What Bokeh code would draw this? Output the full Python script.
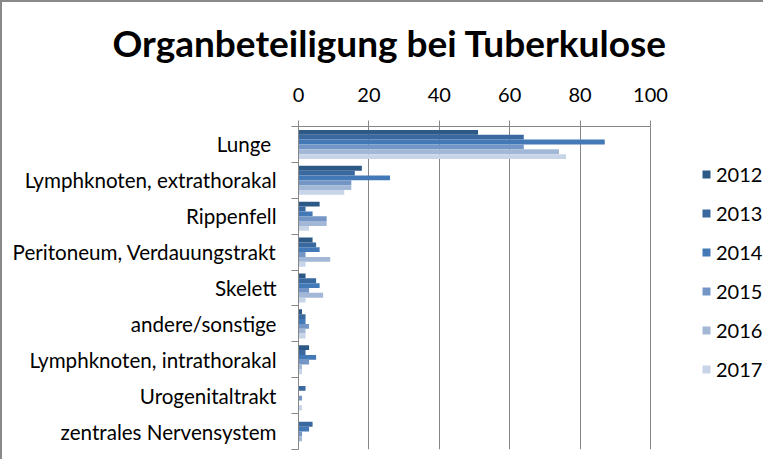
from bokeh.plotting import figure
from bokeh.models import Range1d, FixedTicker, Legend, LegendItem, ColumnDataSource
from bokeh.embed import file_html
from bokeh.resources import INLINE

categories = ["Lunge ", "Lymphknoten, extrathorakal", "Rippenfell",
              "Peritoneum, Verdauungstrakt", "Skelett", "andere/sonstige",
              "Lymphknoten, intrathorakal", "Urogenitaltrakt", "zentrales Nervensystem"]
years = ["2012", "2013", "2014", "2015", "2016", "2017"]
v2012 = [51, 18, 6, 4, 2, 1, 3, 0, 0]
v2013 = [64, 16, 2, 5, 5, 2, 2, 2, 4]
v2014 = [87, 26, 4, 6, 6, 2, 5, 0, 3]
v2015 = [64, 15, 8, 2, 3, 3, 3, 1, 1]
v2016 = [74, 15, 8, 9, 7, 2, 1, 0, 1]
v2017 = [76, 13, 3, 2, 2, 2, 1, 1, 0]
series = [v2012, v2013, v2014, v2015, v2016, v2017]
colors = ["#2D5986", "#3A69A0", "#4379B7", "#7496C7", "#A3B8D7", "#C8D4E7"]
x_ticks = [0, 20, 40, 60, 80, 100]

FONT = "Lato"
FS = "20px"
n = len(categories)
centers = [n - 1 - i + 0.5 for i in range(n)]
bar_h = 0.135

W, H = 763, 459
LEFT = 296          # frame left inside figure
X100 = 648          # pixel of value 100 inside figure
x_end = 100 * (W - LEFT) / (X100 - LEFT)

p = figure(width=W, height=H, x_range=Range1d(0, x_end), y_range=Range1d(0, n),
           x_axis_location="above", output_backend="svg", toolbar_location=None,
           min_border_left=LEFT, min_border_right=0, min_border_bottom=12,
           min_border_top=122)
p.styles = {"border-top": "2px solid #898989", "border-left": "2px solid #898989"}
p.outline_line_color = None
p.background_fill_color = "white"
p.border_fill_color = "white"

p.title.text = "Organbeteiligung bei Tuberkulose"
p.title.text_font = FONT
p.title.text_font_size = "37px"
p.title.text_font_style = "bold"
p.title.text_color = "#000000"
p.title.align = "left"
p.title.vertical_align = "top"
p.title.offset = -186
p.title.standoff = 35

# x axis (top)
p.xaxis.ticker = FixedTicker(ticks=x_ticks, minor_ticks=[])
p.xaxis.bounds = (0, 100)
p.xaxis.axis_line_color = "#868686"
p.xaxis.major_tick_line_color = "#868686"
p.xaxis.major_tick_out = 6
p.xaxis.major_tick_in = 0
p.xaxis.major_label_text_font = FONT
p.xaxis.major_label_text_font_size = FS
p.xaxis.major_label_text_color = "#000000"
p.xaxis.major_label_standoff = 19

# y axis
p.yaxis.ticker = FixedTicker(ticks=centers, minor_ticks=list(range(n + 1)))
p.yaxis.major_label_overrides = {c: lab for c, lab in zip(centers, categories)}
p.yaxis.axis_line_color = "#868686"
p.yaxis.major_tick_line_color = None
p.yaxis.major_tick_out = 0
p.yaxis.major_tick_in = 0
p.yaxis.minor_tick_line_color = "#868686"
p.yaxis.minor_tick_out = 7
p.yaxis.minor_tick_in = 0
p.yaxis.major_label_standoff = 15
p.yaxis.major_label_text_font = FONT
p.yaxis.major_label_text_font_size = "20.6px"
p.yaxis.major_label_text_color = "#000000"

p.xgrid.ticker = FixedTicker(ticks=x_ticks)
p.xgrid.grid_line_color = "#868686"
p.ygrid.visible = False

items = []
for k, (yr, vals, col) in enumerate(zip(years, series, colors)):
    ys = [c + (2.5 - k) * bar_h for c in centers]
    src = ColumnDataSource(dict(y=ys, v=vals))
    r = p.hbar(y="y", right="v", left=0, height=bar_h, source=src,
               fill_color=col, line_color=None)
    items.append(LegendItem(label=yr, renderers=[r]))

legend = Legend(items=items, location=(403, 68), border_line_color=None,
                background_fill_alpha=0, glyph_width=10, glyph_height=10,
                label_height=20, spacing=15, padding=10, margin=0,
                label_text_font=FONT, label_text_font_size=FS,
                label_text_color="#000000", label_standoff=5)
p.add_layout(legend, "center")

open("out.html", "w").write(file_html(p, INLINE))
